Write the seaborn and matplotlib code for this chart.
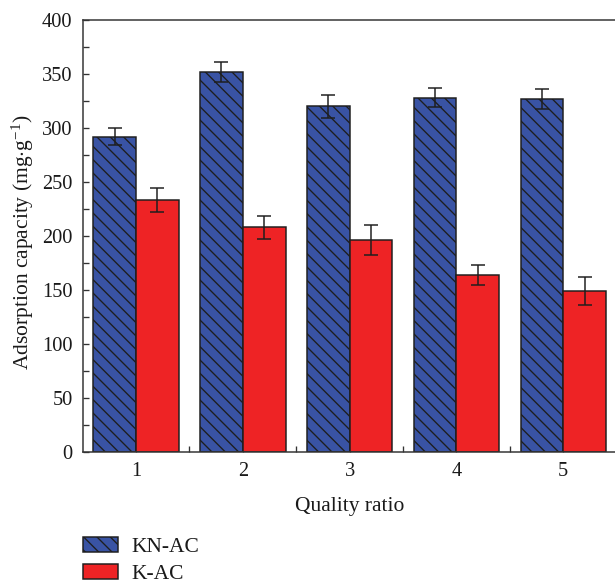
import numpy as np
import pandas as pd
import matplotlib
matplotlib.use("Agg")
import matplotlib.pyplot as plt
from matplotlib.ticker import MultipleLocator, FixedLocator
import seaborn as sns

# ---- data ----
ratios = ["1", "2", "3", "4", "5"]
series = ["KN-AC", "K-AC"]
kn_ac = [292, 352, 320, 328, 327]
kn_ac_err = [8, 9.5, 11, 9, 9]
k_ac = [233, 208, 196, 164, 149]
k_ac_err = [11, 10.5, 14, 9, 13]
yticks = [0, 50, 100, 150, 200, 250, 300, 350, 400]

df = pd.DataFrame({
    "ratio": ratios * 2,
    "series": [series[0]] * len(ratios) + [series[1]] * len(ratios),
    "value": kn_ac + k_ac,
})
errs = {series[0]: kn_ac_err, series[1]: k_ac_err}

sns.set_style("ticks")
plt.rcParams["font.family"] = ["Liberation Serif", "DejaVu Serif"]
plt.rcParams["mathtext.fontset"] = "custom"
plt.rcParams["mathtext.rm"] = "Liberation Serif"
plt.rcParams["mathtext.it"] = "Liberation Serif:italic"
plt.rcParams["hatch.linewidth"] = 0.8
plt.rcParams["hatch.color"] = "#1a1a1a"

DPI = 120
fig = plt.figure(figsize=(615 / DPI, 586 / DPI), dpi=DPI)
ax = fig.add_axes([82.6 / 615, 134 / 586, 534.1 / 615, 432 / 586])

blue = "#3953a4"
red = "#ee2325"
sns.barplot(data=df, x="ratio", y="value", hue="series", order=ratios,
            hue_order=series, palette=[blue, red], saturation=1,
            errorbar=None, width=0.8, ax=ax, legend=False,
            edgecolor="#1e1e1e", linewidth=0.9)

for cont, name in zip(ax.containers, series):
    xs = []
    ys = []
    for bar in cont.patches:
        if name == series[0]:
            bar.set_hatch("\\\\\\")
        xs.append(bar.get_x() + bar.get_width() / 2)
        ys.append(bar.get_height())
    ax.errorbar(xs, ys, yerr=errs[name], fmt="none", ecolor="#1e1e1e",
                elinewidth=0.9, capsize=4, capthick=0.9, zorder=5)

ax.set_ylim(0, 400)
ax.set_xlim(-0.5, 4.5)
ax.yaxis.set_major_locator(FixedLocator(yticks))
ax.yaxis.set_minor_locator(MultipleLocator(25))
ax.xaxis.set_minor_locator(FixedLocator([0.5, 1.5, 2.5, 3.5]))
ax.tick_params(axis="both", which="both", direction="in", length=3.5,
               width=0.8, color="#333333", labelsize=12.2, labelcolor="#1a1a1a")
ax.tick_params(axis="y", which="major", pad=6)
ax.tick_params(axis="x", which="major", pad=6)

for s in ["left", "bottom", "top"]:
    ax.spines[s].set_color("#333333")
    ax.spines[s].set_linewidth(0.9)
ax.spines["right"].set_visible(False)

ax.set_xlabel("Quality ratio", fontsize=12.9, color="#1a1a1a")
ax.set_ylabel(r"Adsorption capacity (mg$\cdot$g$^{-1}$)", fontsize=12.9,
              color="#1a1a1a")
ax.xaxis.set_label_coords(0.5, -0.105)
ax.yaxis.set_label_coords(-0.112, 0.486)
ax.yaxis.label.set_va("center")

handles = [ax.containers[0], ax.containers[1]]
fig.legend(handles=handles, labels=series, loc="upper left",
           bbox_to_anchor=(82.7 / 615, (586 - 537) / 586),
           frameon=False, fontsize=12.9, borderpad=0, borderaxespad=0,
           handlelength=1.65, handleheight=0.7, handletextpad=0.62,
           labelspacing=0.33, labelcolor="#1a1a1a")

fig.savefig("out.png", dpi=DPI)
